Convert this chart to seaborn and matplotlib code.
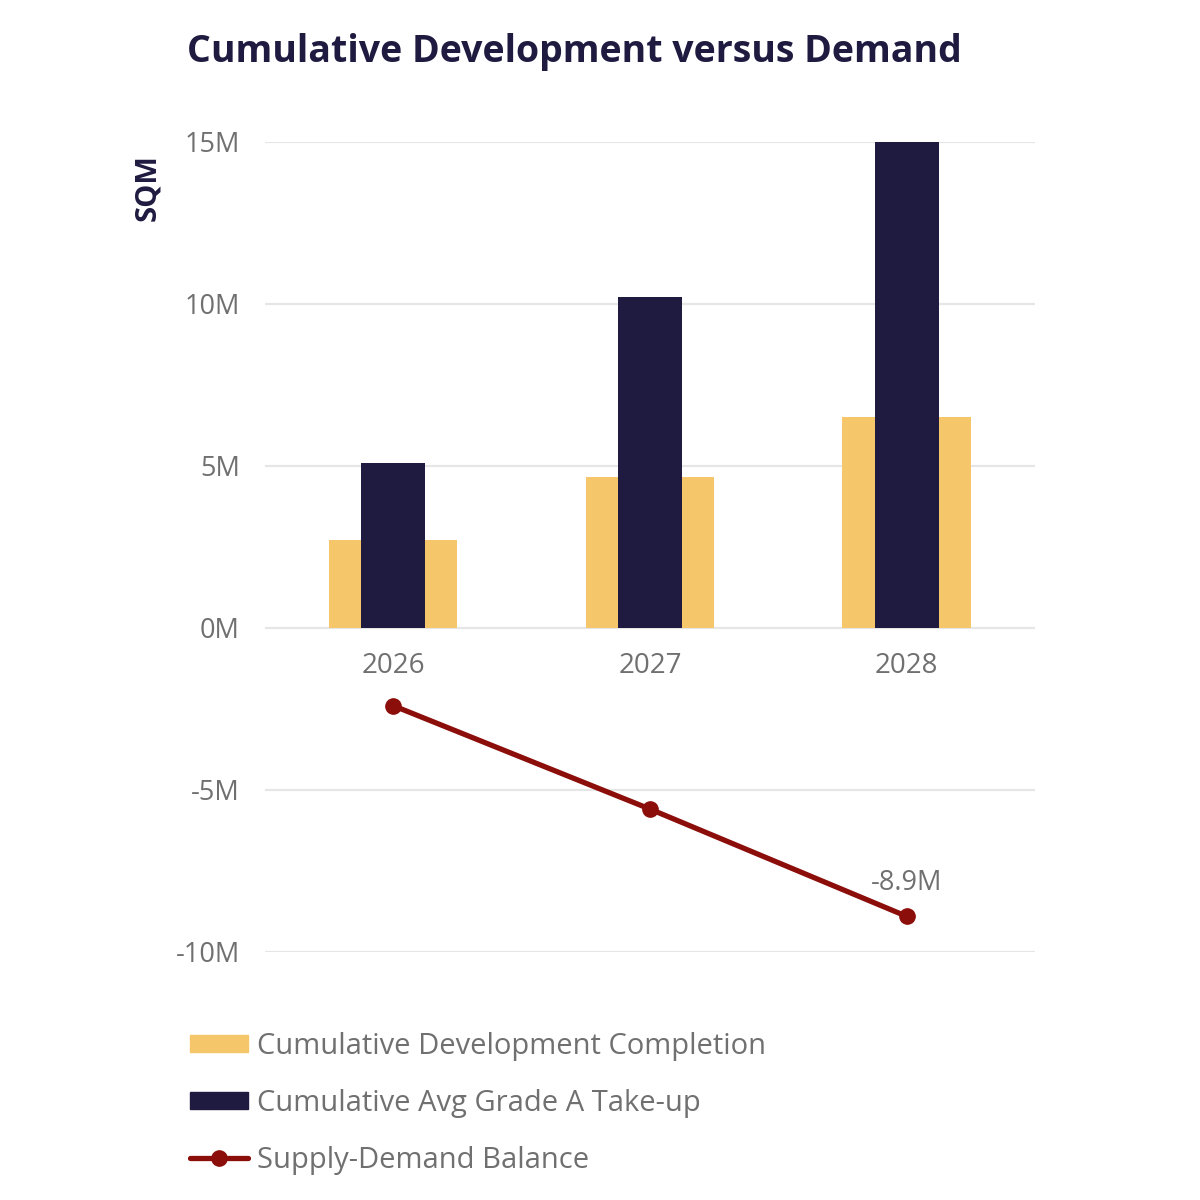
import matplotlib
matplotlib.use("Agg")
import matplotlib.pyplot as plt
import matplotlib.patches as mpatches
from matplotlib.lines import Line2D
import pandas as pd
import seaborn as sns

# values in millions of SQM
years = ['2026', '2027', '2028']
development = [2.72, 4.66, 6.51]
takeup = [5.09, 10.2, 15.0]
balance = [-2.4, -5.59, -8.9]
yticks = [-10, -5, 0, 5, 10, 15]

YELLOW = '#F5C76A'
NAVY = '#1F1A40'
RED = '#8B0E0A'
GREY = '#707070'

sns.set_style('white')
plt.rcParams['font.family'] = ['Open Sans', 'DejaVu Sans']

df = pd.DataFrame({'year': years, 'dev': development, 'take': takeup, 'bal': balance})

fig = plt.figure(figsize=(12, 12), dpi=100)
ax = fig.add_axes([0.2208, 0.2067, 0.6417, 0.675])

sns.barplot(data=df, x='year', y='dev', color=YELLOW, width=0.5, saturation=1, linewidth=0, ax=ax, zorder=2)
sns.barplot(data=df, x='year', y='take', color=NAVY, width=0.25, saturation=1, linewidth=0, ax=ax, zorder=3)
ax.plot(range(len(years)), df['bal'], color=RED, lw=3.8, marker='o', ms=11, zorder=4)
for p in ax.patches:
    p.set_clip_on(False)

ax.annotate(f"{balance[-1]:.1f}M", (2, balance[-1]), xytext=(0, 14), textcoords='offset points',
            ha='center', va='bottom', fontsize=19.5, color=GREY)

ax.set_xlim(-0.5, 2.5)
ax.set_ylim(-10, 15)
ax.set_yticks(yticks)
ax.set_yticklabels([f"{t}M" for t in yticks])
for y in yticks:
    ax.axhline(y, color='#E6E6E6', lw=1.6, zorder=1)

for s in ax.spines.values():
    s.set_visible(False)
ax.spines['bottom'].set_position(('data', 0))
ax.tick_params(axis='x', length=0, pad=17, labelsize=20, labelcolor=GREY)
ax.tick_params(axis='y', length=0, pad=18, labelsize=19.5, labelcolor=GREY)
ax.set_xlabel('')
ax.set_ylabel('')

fig.text(187 / 1200, 1 - 52 / 1200, 'Cumulative Development versus Demand', fontsize=27,
         fontweight='bold', color=NAVY, ha='left', va='center')
fig.text(148 / 1200, 1 - 188 / 1200, 'SQM', rotation=90, fontsize=21, fontweight='bold',
         color=NAVY, ha='center', va='center')

handles = [
    mpatches.Patch(color=YELLOW, label='Cumulative Development Completion'),
    mpatches.Patch(color=NAVY, label='Cumulative Avg Grade A Take-up'),
    Line2D([0], [0], color=RED, lw=3.8, marker='o', ms=11, label='Supply-Demand Balance'),
]
leg = fig.legend(handles=handles, loc='upper left', bbox_to_anchor=(178 / 1200, 1 - 1020 / 1200),
                 frameon=False, fontsize=21, labelcolor=GREY, handlelength=2.0, handleheight=0.55,
                 handletextpad=0.3, labelspacing=0.96, borderaxespad=0)

fig.savefig('out.png', dpi=100)
